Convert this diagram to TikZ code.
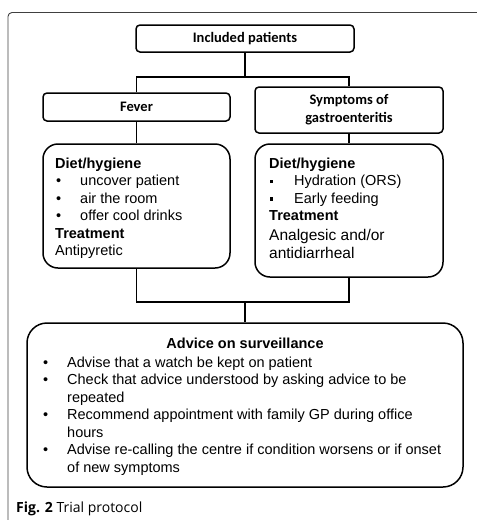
\documentclass[tikz,border=0pt]{standalone}
\usepackage{fontspec}
\setmainfont{Liberation Sans}
\newfontfamily\calib{Carlito}
\newfontfamily\capfont{Open Sans}
\newcommand\bul{\makebox[25pt][l]{\hspace{1pt}\textbullet}}
\newcommand\sqb{\makebox[25pt][l]{\hspace{0.5pt}\rule[2.8pt]{3.6pt}{3.6pt}}}
\newcommand\cont{\hspace*{25pt}}
\begin{document}
\begin{tikzpicture}[x=1pt,y=-1pt,
  box/.style={draw, line width=1.5pt, rounded corners=4pt, inner sep=0pt,
    font=\calib\bfseries\fontsize{14.5}{18}\selectfont, align=center},
  bigbox/.style={draw, line width=1.5pt, rounded corners=15pt, inner sep=0pt},
  link/.style={line width=1.3pt},
  body/.style={anchor=base west, inner sep=0pt, font=\fontsize{14.5}{17.45}\selectfont}]
\useasboundingbox (0,0) rectangle (477,520);
% outer frame
\draw[line width=0.9pt, black!75, rounded corners=4pt] (8,522) -- (8,12.5) -- (479,12.5);
% boxes
\node[box, minimum width=218pt, minimum height=27pt] (inc) at (245,38.5) {Included patients};
\node[box, minimum width=187pt, minimum height=28pt] (fever) at (136.5,107) {Fever};
\node[box, minimum width=188pt, minimum height=46pt] (sym) at (349,110) {Symptoms of\\gastroenteritis};
\node[bigbox, minimum width=187pt, minimum height=124pt] (ldiet) at (136.5,206) {};
\node[bigbox, minimum width=188pt, minimum height=133pt] (rdiet) at (349,210.5) {};
\node[bigbox, rounded corners=20pt, minimum width=436pt, minimum height=164pt] (adv) at (245,405) {};
% texts
\node[body] (ltext) at (55,168.5) {\parbox[t]{170pt}{\textbf{Diet/hygiene}\\
\bul uncover patient\\
\bul air the room\\
\bul offer cool drinks\\
\textbf{Treatment}\\
Antipyretic}};
\node[body] (rtext) at (269,168.5) {\parbox[t]{170pt}{\textbf{Diet/hygiene}\\
\sqb Hydration (ORS)\\
\sqb Early feeding\\
\textbf{Treatment}}};
\node[body, font=\fontsize{15.5}{18}\selectfont] (rtreat) at (269,240.5) {\parbox[t]{170pt}{Analgesic and/or\\
antidiarrheal}};
\node[anchor=base, inner sep=0pt, font=\bfseries\fontsize{14.5}{17.5}\selectfont] (advhead) at (245,348) {Advice on surveillance};
\node[body, font=\fontsize{14.5}{17.5}\selectfont] (advtext) at (42,367) {\parbox[t]{420pt}{\bul Advise that a watch be kept on patient\\
\bul Check that advice understood by asking advice to be\\
\cont repeated\\
\bul Recommend appointment with family GP during office\\
\cont hours\\
\bul Advise re-calling the centre if condition worsens or if onset\\
\cont of new symptoms}};
\node[anchor=base west, inner sep=0pt, font=\capfont\fontsize{14}{16}\selectfont] (cap) at (16,512) {\textbf{Fig. 2} Trial protocol};
% connectors
\coordinate (j1) at (245,77);
\draw[link] (inc.south) -- (j1);
\draw[link] (fever.north) |- (j1) -| (sym.north);
\draw[link] (fever.south) -- (ldiet.north);
\draw[link] (sym.south) -- (rdiet.north);
\coordinate (j2) at (245,302);
\draw[link] (ldiet.south) |- (j2) -| (rdiet.south);
\draw[link] (j2) -- (adv.north);
\end{tikzpicture}
\end{document}
